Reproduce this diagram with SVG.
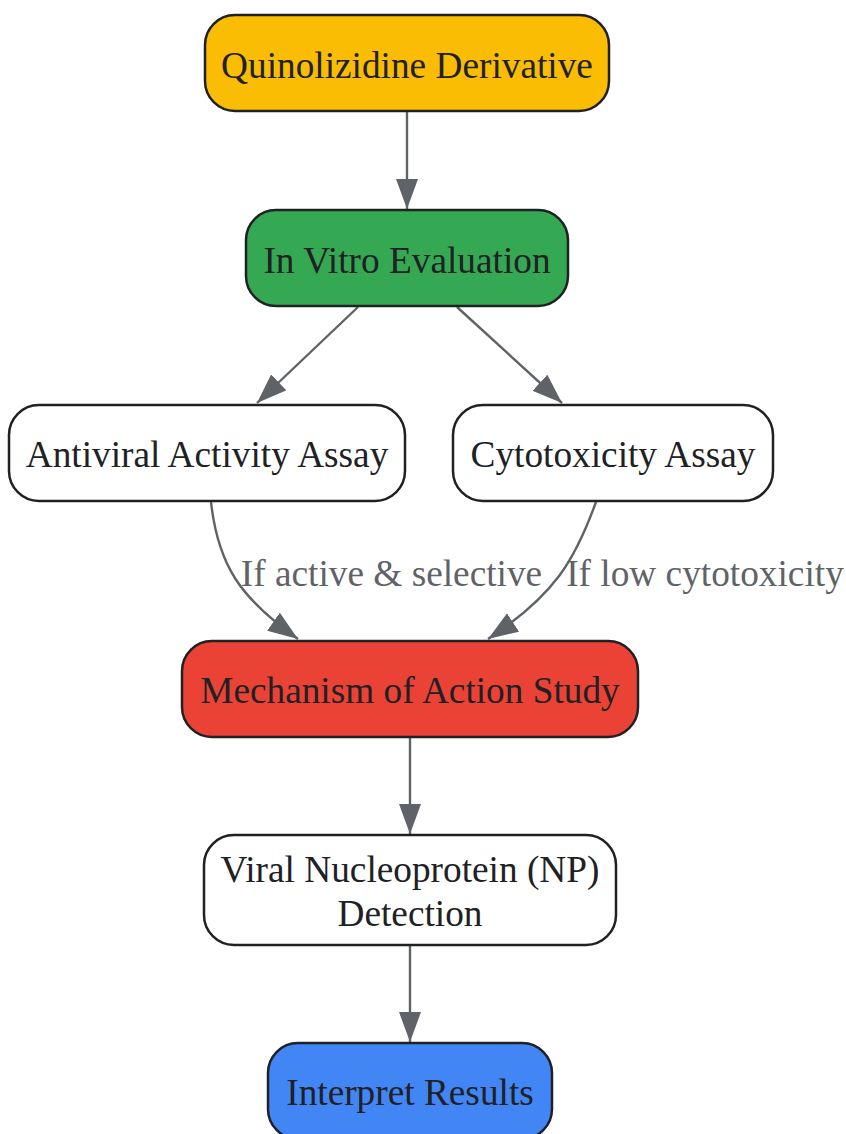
<svg xmlns="http://www.w3.org/2000/svg" width="846" height="1134" viewBox="0 0 846 1134">
<defs>
<style>
.node rect{stroke:#202124;stroke-width:2.5}
.node text{font-family:"Liberation Serif","Times New Roman",serif;font-size:37.3px;fill:#202124;text-anchor:middle}
.edge{fill:none;stroke:#5f6368;stroke-width:2.4}
.elabel{font-family:"Liberation Serif","Times New Roman",serif;font-size:37.3px;fill:#5f6368;text-anchor:middle}
</style>
<marker id="arrow" markerUnits="userSpaceOnUse" markerWidth="30" markerHeight="22" refX="30" refY="11" orient="auto" viewBox="0 0 30 22">
<path d="M0,0 L30,11 L0,22 Z" fill="#5f6368"/>
</marker>
</defs>
<rect width="846" height="1134" fill="#ffffff"/>
<g id="connectors">
<path class="edge" d="M407,111 L407,209" marker-end="url(#arrow)"/>
<path class="edge" d="M358,307 L257,403" marker-end="url(#arrow)"/>
<path class="edge" d="M457,307 L562,403" marker-end="url(#arrow)"/>
<path class="edge" d="M211,502 C218,565 240,598 298,639" marker-end="url(#arrow)"/>
<path class="edge" d="M596,502 C575,560 555,595 488,639" marker-end="url(#arrow)"/>
<path class="edge" d="M410,737 L410,834" marker-end="url(#arrow)"/>
<path class="edge" d="M410,945 L410,1042" marker-end="url(#arrow)"/>
<text class="elabel" x="391.5" y="586">If active &amp; selective</text>
<text class="elabel" x="705" y="586">If low cytotoxicity</text>
</g>
<g id="node-quinolizidine" class="node">
<rect x="205" y="15" width="404" height="96" rx="30" fill="#fbbc04"/>
<text x="407" y="78">Quinolizidine Derivative</text>
</g>
<g id="node-invitro" class="node">
<rect x="246" y="210" width="322" height="96" rx="30" fill="#34a853"/>
<text x="407" y="273">In Vitro Evaluation</text>
</g>
<g id="node-antiviral" class="node">
<rect x="9" y="405" width="396" height="96" rx="30" fill="#ffffff"/>
<text x="207" y="467">Antiviral Activity Assay</text>
</g>
<g id="node-cytotoxicity" class="node">
<rect x="453" y="405" width="320" height="96" rx="30" fill="#ffffff"/>
<text x="613" y="467">Cytotoxicity Assay</text>
</g>
<g id="node-mechanism" class="node">
<rect x="182" y="641" width="456" height="96" rx="30" fill="#ea4335"/>
<text x="410" y="703">Mechanism of Action Study</text>
</g>
<g id="node-np" class="node">
<rect x="204" y="835" width="412" height="110" rx="30" fill="#ffffff"/>
<text x="410" y="882">Viral Nucleoprotein (NP)</text>
<text x="410" y="926">Detection</text>
</g>
<g id="node-interpret" class="node">
<rect x="268" y="1043" width="284" height="96" rx="30" fill="#4285f4"/>
<text x="410" y="1105">Interpret Results</text>
</g>
</svg>
